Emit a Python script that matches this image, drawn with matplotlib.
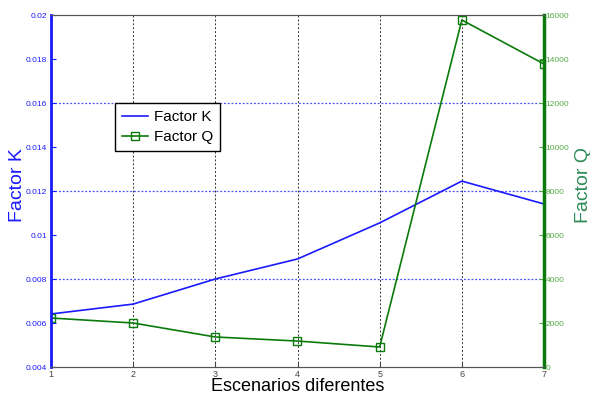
import matplotlib
matplotlib.use('Agg')
import matplotlib.pyplot as plt

plt.rcParams['font.family'] = ['Liberation Sans', 'DejaVu Sans']

# datos
escenarios = [1, 2, 3, 4, 5, 6, 7]
factor_k = [0.00641, 0.00686, 0.0080, 0.00891, 0.01055, 0.01245, 0.01141]
factor_q = [2227, 2000, 1364, 1180, 909, 15773, 13773]

fig = plt.figure(figsize=(5.9, 3.94), dpi=100)
ax = fig.add_axes([51/590, 1-367/394, (544-51)/590, (367-15)/394])
ax2 = ax.twinx()

ax.plot(escenarios, factor_k, color='#1a1aff', lw=1.2, label='Factor K')
ax2.plot(escenarios, factor_q, color='#0a7a0a', lw=1.2, marker='s', ms=6,
         mfc='none', mec='#0a7a0a', label='Factor Q')

ax.set_xlim(1, 7)
ax.set_ylim(0.004, 0.02)
ax2.set_ylim(0, 16000)
ax.set_xticks(escenarios)
ax.set_yticks([0.004, 0.006, 0.008, 0.01, 0.012, 0.014, 0.016, 0.018, 0.02])
ax.set_yticklabels(['0.004', '0.006', '0.008', '0.01', '0.012', '0.014', '0.016', '0.018', '0.02'])
ax2.set_yticks(range(0, 16001, 2000))

# rejilla
for x in escenarios[1:-1]:
    ax.axvline(x, color='#333333', ls=(0, (2, 2)), lw=0.7, zorder=0)
for y in [0.008, 0.012, 0.016]:
    ax.axhline(y, color='#4d4dff', ls=(0, (1.5, 1.5)), lw=0.9, zorder=0)

ax.tick_params(axis='x', direction='in', labelsize=6.5, colors='#444444', pad=2)
ax.tick_params(axis='y', direction='in', labelsize=6, colors='#1a1aff', pad=3)
ax2.tick_params(axis='y', direction='in', labelsize=6, colors='#55aa44', pad=1)

for s in ['top', 'bottom']:
    ax.spines[s].set_color('#555555')
ax2.spines['left'].set_color('#1a1aff')
ax2.spines['left'].set_linewidth(2)
ax2.spines['right'].set_color('#0a7a0a')
ax2.spines['right'].set_linewidth(2.5)
ax2.spines['top'].set_color('#555555')
ax2.spines['bottom'].set_color('#555555')

ax.set_xlabel('Escenarios diferentes', fontsize=13)
ax.xaxis.set_label_coords(0.5, -0.03)
ax.set_ylabel('Factor K', fontsize=14, color='#1a1aff')
ax.yaxis.set_label_coords(-0.05, 0.517)
ax2.set_ylabel('Factor Q', fontsize=14, color='#2e8b57', rotation=90)
ax2.yaxis.set_label_coords(1.062, 0.517)

h1, l1 = ax.get_legend_handles_labels()
h2, l2 = ax2.get_legend_handles_labels()
ax2.legend(h1 + h2, l1 + l2, loc='upper left', bbox_to_anchor=(0.13, 0.75),
           fontsize=11, frameon=True, fancybox=False, edgecolor='black',
           framealpha=1, handlelength=1.7, handletextpad=0.4,
           borderpad=0.45, labelspacing=0.4, borderaxespad=0)

fig.savefig('out.png', dpi=100)
